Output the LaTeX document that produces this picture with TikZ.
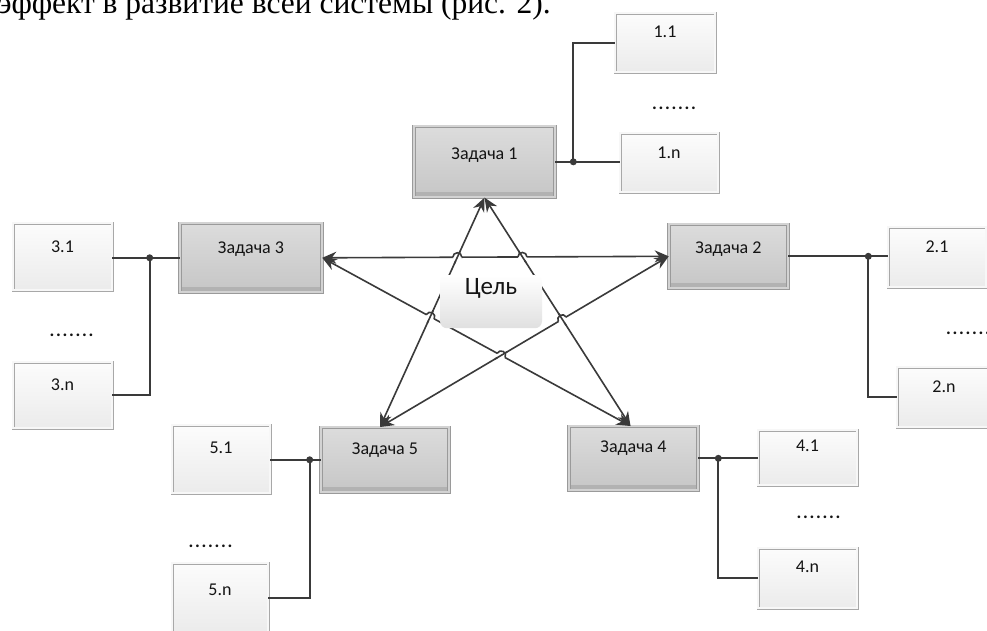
\documentclass[tikz,border=0pt]{standalone}
\usepackage{fontspec}
\setmainfont{Carlito}
\newfontfamily\bodyserif{Liberation Serif}
\usetikzlibrary{arrows.meta,intersections,calc}
\definecolor{linec}{HTML}{3A3A3A}
\definecolor{taskTop}{HTML}{DCDCDC}
\definecolor{taskBot}{HTML}{C6C6C6}
\definecolor{taskEdge}{HTML}{9A9A9A}
\definecolor{bandc}{HTML}{B2B2B2}
\definecolor{subTop}{HTML}{FCFCFC}
\definecolor{subBot}{HTML}{EBEBEB}
\definecolor{subEdge}{HTML}{A8A8A8}
\definecolor{goalBot}{HTML}{E0E0E0}
\newcommand\sevendots{.\kern1.7pt.\kern1.7pt.\kern1.7pt.\kern1.7pt.\kern1.7pt.\kern1.7pt.}
\newcommand\linehop[3]{%
  \begin{scope}[shift={(#1)}, x=1pt, y=1pt]
    \fill[white] (0,0) circle (4.5);
    \draw[lnkhop, rotate=#3] (-7,0) -- (7,0);
    \draw[lnkhop, rotate=#2] (-4.5,0) arc (180:0:4.5);
  \end{scope}}
\tikzset{
  boxbase/.style={rectangle, inner sep=0pt, anchor=north,
    font=\fontsize{18}{20}\selectfont, text=black!92},
  taskbox/.style={boxbase, top color=taskTop, bottom color=taskBot,
    draw=taskEdge, line width=0.6pt, double=taskTop!60!taskBot, double distance=2pt,
    path picture={\fill[bandc] (path picture bounding box.south west) rectangle
      ([yshift=5pt]path picture bounding box.south east);}},
  subbox/.style={boxbase, top color=subTop, bottom color=subBot,
    draw=subEdge, line width=0.5pt, double=white!97!black, double distance=2pt},
  goalbox/.style={rectangle, rounded corners=7pt, inner sep=0pt, anchor=north,
    top color=white, bottom color=goalBot, font=\fontsize{25}{27}\selectfont, text=black!92},
  dotsnode/.style={inner sep=0pt, anchor=base, font=\fontsize{18}{20}\selectfont\bfseries, text=black!92},
  lnk/.style={draw=linec, line width=1.7pt},
  lnkhop/.style={draw=linec, line width=1.6pt},
  arr/.style={draw=linec, line width=1.6pt,
    arrows={Stealth[length=14pt,width=12pt]-Stealth[length=14pt,width=12pt]}},
  jdot/.style={fill=linec}
}
\begin{document}
\begin{tikzpicture}[x=1pt, y=-1pt]
\useasboundingbox (0,0) rectangle (987,630);
\clip (0,0) rectangle (987,630);
\fill[white] (0,0) rectangle (987,630);

% heading line (cut by the top edge)
\node[inner sep=0pt, anchor=base west, font=\bodyserif\fontsize{31.5}{34}\selectfont] (head) at (-2,13.5)
  {эффект в развитие всей системы (рис. 2).};

% task boxes
\node[taskbox, minimum width=141pt, text height=33pt, text depth=38pt] (t1) at (484.5,126) {Задача 1};
\node[taskbox, minimum width=142pt, text height=30pt, text depth=39pt] (t3) at (251,223) {Задача 3};
\node[taskbox, minimum width=119pt, text height=29pt, text depth=35pt] (t2) at (728.5,224) {Задача 2};
\node[taskbox, minimum width=128pt, text height=27pt, text depth=38pt] (t5) at (385,427) {Задача 5};
\node[taskbox, minimum width=129pt, text height=26pt, text depth=38pt] (t4) at (633.5,426) {Задача 4};

% sub boxes
\node[subbox, minimum width=100pt, text height=24.5pt, text depth=34.5pt] (s11) at (665,13) {1.1};
\node[subbox, minimum width=98pt, text height=25.5pt, text depth=33.5pt] (s1n) at (669,133) {1.n};
\node[subbox, minimum width=99pt, text height=29.5pt, text depth=37.5pt] (s31) at (62.5,223) {3.1};
\node[subbox, minimum width=99pt, text height=28.5pt, text depth=37.5pt] (s3n) at (62.5,362) {3.n};
\node[subbox, minimum width=98pt, text height=25.5pt, text depth=34.5pt] (s21) at (937,227) {2.1};
\node[subbox, minimum width=94pt, text height=25.5pt, text depth=34.5pt] (s2n) at (944,367) {2.n};
\node[subbox, minimum width=98pt, text height=28.5pt, text depth=39.5pt] (s51) at (221,425) {5.1};
\node[subbox, minimum width=96pt, text height=32.5pt, text depth=36.5pt] (s5n) at (220,563) {5.n};
\node[subbox, minimum width=99pt, text height=21.5pt, text depth=33.5pt] (s41) at (807.5,430) {4.1};
\node[subbox, minimum width=99pt, text height=24.5pt, text depth=35.5pt] (s4n) at (807.5,548) {4.n};

% dots
\node[dotsnode] (d1) at (674,109.5) {\sevendots};
\node[dotsnode] (d3) at (71.5,336.5) {\sevendots};
\node[dotsnode] (d2) at (968,334.5) {\sevendots};
\node[dotsnode] (d5) at (210.5,547.5) {\sevendots};
\node[dotsnode] (d4) at (818.5,518.5) {\sevendots};

% tree connectors
\path (t1.east) ++(18,0) coordinate (j1);
\draw[lnk] (t1.east) -- (t1.east -| s1n.west);
\draw[lnk] (j1) |- (s11.west);
\fill[jdot] (j1) circle (3.5);

\path (t3.west) ++(-30,0) coordinate (j3);
\draw[lnk] (t3.west) -- (t3.west -| s31.east);
\draw[lnk] (j3) |- (s3n.east);
\fill[jdot] (j3) circle (3.5);

\path (t2.east) ++(80,0) coordinate (j2);
\draw[lnk] (t2.east) -- (t2.east -| s21.west);
\draw[lnk] (j2) |- (s2n.west);
\fill[jdot] (j2) circle (3.5);

\path (t5.west) ++(-11,0) coordinate (j5);
\draw[lnk] (t5.west) -- (t5.west -| s51.east);
\draw[lnk] (j5) |- (s5n.east);
\fill[jdot] (j5) circle (3.5);

\path (t4.east) ++(20,0) coordinate (j4);
\draw[lnk] (t4.east) -- (t4.east -| s41.west);
\draw[lnk] (j4) |- (s4n.west);
\fill[jdot] (j4) circle (3.5);

% star of links
\path ([xshift=-5pt]t5.north) coordinate (t5top);
\path ([xshift=-3pt]t4.north) coordinate (t4top);
\draw[arr, name path=A] (t1.south) -- (t5top);
\draw[arr, name path=B] (t1.south) -- (t4top);
\draw[arr, name path=C] (t3.east) -- (t2.west);
\draw[arr, name path=D] (t3.east) -- (t4top);
\draw[arr, name path=E] (t2.west) -- (t5top);

\path[name intersections={of=A and C, by={h1}}];
\path[name intersections={of=B and C, by={h2}}];
\path[name intersections={of=A and D, by={h3}}];
\path[name intersections={of=B and E, by={h4}}];
\path[name intersections={of=D and E, by={h5}}];
\linehop{h1}{0}{65.2}
\linehop{h2}{0}{-57.5}
\linehop{h3}{-28.6}{65.2}
\linehop{h4}{30.6}{-57.5}
\linehop{h5}{-28.6}{30.6}

% goal
\node[goalbox, minimum width=102pt, text height=19pt, text depth=34pt] (goal) at (491,275) {Цель};
\end{tikzpicture}
\end{document}
